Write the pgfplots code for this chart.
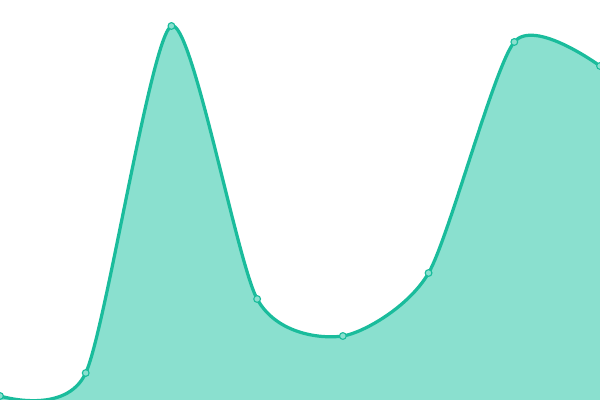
\documentclass[border=0pt]{standalone}
\usepackage{pgfplots}
\pgfplotsset{compat=1.18}
\definecolor{lineteal}{RGB}{26,188,156}
\definecolor{fillteal}{RGB}{138,224,207}
\begin{document}
\begin{tikzpicture}
\begin{axis}[
  width=15cm, height=10cm,
  scale only axis,
  hide axis,
  xmin=0, xmax=7,
  ymin=0, ymax=400,
  clip mode=individual,
]
\addplot[draw=none, fill=fillteal, smooth, tension=0.42]
  coordinates {(0,4) (1,27) (2,374) (3,101) (4,64) (5,127) (6,358) (7,334)}
  \closedcycle;
\addplot[lineteal, line width=2.3pt, smooth, tension=0.42,
  mark=*, mark size=2.4pt,
  mark options={fill=fillteal, draw=lineteal, line width=0.8pt}]
  coordinates {(0,4) (1,27) (2,374) (3,101) (4,64) (5,127) (6,358) (7,334)};
\end{axis}
\pgfresetboundingbox
\path (current axis.south west) rectangle (current axis.north east);
\end{tikzpicture}
\end{document}
